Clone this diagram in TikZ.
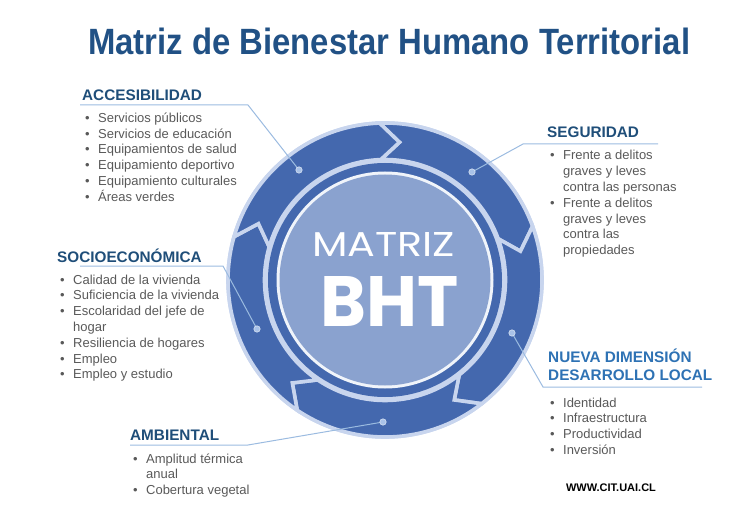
\documentclass[tikz,border=0pt]{standalone}
\usepackage{fontspec}
\setmainfont{Liberation Sans}
\newfontfamily\popfont{Poppins}
\definecolor{navy}{HTML}{1F4E79}
\definecolor{titleblue}{HTML}{215185}
\definecolor{midblue}{HTML}{2E72B4}
\definecolor{greytext}{HTML}{595959}
\definecolor{ringblue}{RGB}{68,104,174}
\definecolor{palering}{HTML}{C8D5EE}
\definecolor{discblue}{HTML}{8AA2CF}
\definecolor{whitering}{HTML}{F0F4FA}
\definecolor{linkblue}{HTML}{9BBBE0}
\definecolor{dotblue}{HTML}{A9C2E8}
\newcommand\blist[1]{\begin{tabular}[t]{@{}l@{\hspace{8.4pt}}l@{}}#1\end{tabular}}
\begin{document}
\begin{tikzpicture}[x=1pt,y=1pt,
  head/.style={anchor=base west, inner sep=0pt, font=\fontsize{15.3}{18}\selectfont\bfseries, text=navy},
  listtext/.style={anchor=base west, inner sep=0pt, font=\fontsize{13}{15.8}\selectfont, text=greytext},
  link/.style={draw=linkblue, line width=1pt},
  dotst/.style={circle, fill=dotblue, draw=whitering, line width=0.4pt, inner sep=0pt, minimum size=6.5pt},
  segst/.style={fill=ringblue, draw=palering, line width=3.6pt, line join=miter}]
\useasboundingbox (0,0) rectangle (750,507);

% title
\node[anchor=south west, inner sep=0pt, text=titleblue] (title) at (88,452)
  {\resizebox{602pt}{26.5pt}{\bfseries Matriz de Bienestar Humano Territorial}};

% ring
\begin{scope}[shift={(385,227)}]
  \fill[palering] (0,0) circle[radius=158.8];
  \foreach \a in {88,16,-56,-128,-200}{
    \pgfmathsetmacro{\b}{\a-72}
    \path[segst] (\a+4:157) arc[start angle=\a+4, end angle=\b+4, radius=157]
      -- (\b-4:138.5) -- (\b+4:120.5)
      arc[start angle=\b+4, end angle=\a+4, radius=120.5]
      -- (\a-4:138.5) -- cycle;
  }
  \fill[ringblue] (0,0) circle[radius=117];
  \fill[whitering] (0,0) circle[radius=108.5];
  \fill[discblue] (0,0) circle[radius=105.5];
\end{scope}

\node[anchor=south west, inner sep=0pt, text=white] (matriz) at (312,250)
  {\resizebox{143pt}{24pt}{\popfont MATRIZ}};
\node[anchor=south west, inner sep=0pt, text=white] (bht) at (320,180)
  {\resizebox{138pt}{50pt}{\popfont\bfseries BHT}};

% connector coordinates
\coordinate (uA) at (80,402);   \coordinate (kA) at (248,402);
\coordinate (uS) at (658,363);  \coordinate (kS) at (523,363);
\coordinate (uSo) at (80,241);  \coordinate (kSo) at (223,241);
\coordinate (uN) at (702,120);  \coordinate (kN) at (543,120);
\coordinate (uAm) at (130,62);  \coordinate (kAm) at (248,62);
\coordinate (pA) at (299,337);
\coordinate (pS) at (472,335);
\coordinate (pSo) at (257,178);
\coordinate (pN) at (512,174);
\coordinate (pAm) at (383,85);

\draw[link] (uA) -- (kA) -- (pA);
\draw[link] (uS) -- (kS) -- (pS);
\draw[link] (uSo) -- (kSo) -- (pSo);
\draw[link] (uN) -- (kN) -- (pN);
\draw[link] (uAm) -- (kAm) -- (pAm);

\node[dotst] (dA) at (pA) {};
\node[dotst] (dS) at (pS) {};
\node[dotst] (dSo) at (pSo) {};
\node[dotst] (dN) at (pN) {};
\node[dotst] (dAm) at (pAm) {};

% Accesibilidad
\node[head] (hA) at (82,406) {ACCESIBILIDAD};
\node[listtext] (lA) at (85,384.7) {\blist{
  • & Servicios públicos\\
  • & Servicios de educación\\
  • & Equipamientos de salud\\
  • & Equipamiento deportivo\\
  • & Equipamiento culturales\\
  • & Áreas verdes}};

% Socioeconomica
\node[head] (hSo) at (57,245) {SOCIOECONÓMICA};
\node[listtext] (lSo) at (60,223) {\blist{
  • & Calidad de la vivienda\\
  • & Suficiencia de la vivienda\\
  • & Escolaridad del jefe de\\
    & hogar\\
  • & Resiliencia de hogares\\
  • & Empleo\\
  • & Empleo y estudio}};

% Seguridad
\node[head] (hS) at (547,369) {SEGURIDAD};
\node[listtext] (lS) at (550,347) {\blist{
  • & Frente a delitos\\
    & graves y leves\\
    & contra las personas\\
  • & Frente a delitos\\
    & graves y leves\\
    & contra las\\
    & propiedades}};

% Nueva dimension
\node[head, text=midblue] (hN1) at (548,145) {NUEVA DIMENSIÓN};
\node[head, text=midblue] (hN2) at (548,127) {DESARROLLO LOCAL};
\node[listtext] (lN) at (550,100) {\blist{
  • & Identidad\\
  • & Infraestructura\\
  • & Productividad\\
  • & Inversión}};

% Ambiental
\node[head] (hAm) at (130,67) {AMBIENTAL};
\node[listtext] (lAm) at (133,44) {\blist{
  • & Amplitud térmica\\
    & anual\\
  • & Cobertura vegetal}};

\node[anchor=base, inner sep=0pt, font=\fontsize{11}{13}\selectfont\bfseries, text=black] (www) at (611,16) {WWW.CIT.UAI.CL};
\end{tikzpicture}
\end{document}
